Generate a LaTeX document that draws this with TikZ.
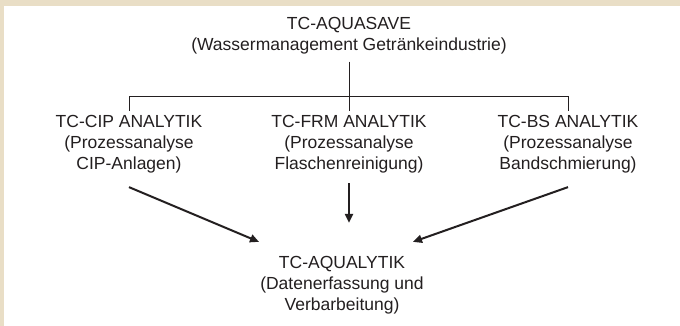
\documentclass[tikz,border=0pt]{standalone}
\usepackage{fontspec}
\setmainfont{Liberation Sans}
\usetikzlibrary{arrows.meta}
\definecolor{framebeige}{HTML}{E9DEC6}
\definecolor{txtgray}{HTML}{231F20}
\begin{document}
\begin{tikzpicture}[x=1pt,y=-1pt,
  lbl/.style={align=center,inner sep=0pt,text=txtgray,font=\fontsize{17.5}{21}\selectfont},
  treeline/.style={draw=txtgray,line width=0.9pt},
  arr/.style={draw=txtgray,line width=2pt,-{Triangle[length=9pt,width=8pt]}}]
\fill[framebeige] (0,0) rectangle (680,326);
\fill[white] (4,6) rectangle (680,326);
\useasboundingbox (0,0) rectangle (680,326);
\node[lbl] (top) at (349,36) {TC-AQUASAVE\\(Wassermanagement Getränkeindustrie)};
\node[lbl] (cip) at (129,144) {TC-CIP ANALYTIK\\(Prozessanalyse\\CIP-Anlagen)};
\node[lbl] (frm) at (349,144) {TC-FRM ANALYTIK\\(Prozessanalyse\\Flaschenreinigung)};
\node[lbl] (bs) at (568,144) {TC-BS ANALYTIK\\(Prozessanalyse\\Bandschmierung)};
\node[lbl] (bot) at (342,285) {TC-AQUALYTIK\\(Datenerfassung und\\Verbarbeitung)};
\coordinate (j) at (349,96);
\draw[treeline] ([yshift=-7pt]top.south) -- ([yshift=4pt]frm.north);
\draw[treeline] ([yshift=4pt]cip.north) -- (cip.north |- j) -- (bs.north |- j) -- ([yshift=4pt]bs.north);
\draw[arr] ([yshift=-14pt]cip.south) -- ([xshift=-83pt,yshift=14pt]bot.north);
\draw[arr] ([yshift=-10pt]frm.south) -- ([xshift=7pt,yshift=33pt]bot.north);
\draw[arr] ([yshift=-14pt]bs.south) -- ([xshift=71pt,yshift=14pt]bot.north);
\end{tikzpicture}
\end{document}
